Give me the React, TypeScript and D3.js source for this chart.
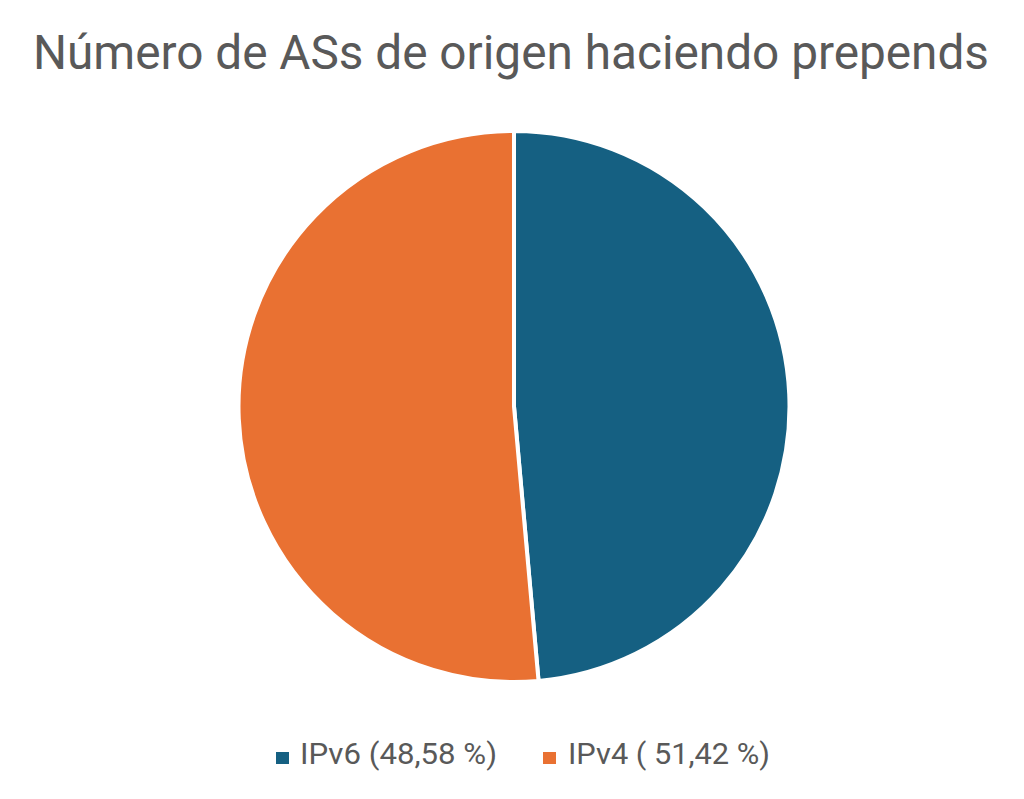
import React from "react";
import * as d3 from "d3";

const categories = ["IPv6", "IPv4"];
const values = [48.58, 51.42];
const legendLabels = ["IPv6 (48,58 %)", "IPv4 ( 51,42 %)"];
const colors = ["#156082", "#E97132"];

export default function App() {
  const W = 1024, H = 799;
  const cx = 514, cy = 406.5, r = 275.5;
  const pie = d3.pie<number>().sort(null).value((d) => d)(values);
  const arc = d3.arc<d3.PieArcDatum<number>>().innerRadius(0).outerRadius(r);
  const font = "Roboto, 'Open Sans', 'Liberation Sans', sans-serif";
  const legendX = [276, 543];
  const textX = [300, 568];
  return (
    <svg width={W} height={H} style={{ position: "absolute", left: 0, top: 0, background: "#fff" }}>
      <rect width={W} height={H} fill="#fff" />
      <text x={511} y={69} textAnchor="middle" fontFamily={font} fontSize={48} fill="#595959" textLength={956} lengthAdjust="spacingAndGlyphs">
        Número de ASs de origen haciendo prepends
      </text>
      <g transform={`translate(${cx},${cy})`}>
        {pie.map((p, i) => (
          <path key={categories[i]} d={arc(p) || ""} fill={colors[i]} stroke="#fff" strokeWidth={4} strokeLinejoin="round" />
        ))}
      </g>
      {legendLabels.map((l, i) => (
        <g key={l}>
          <rect x={legendX[i]} y={752} width={13} height={12} fill={colors[i]} />
          <text x={textX[i]} y={764} fontFamily={font} fontSize={30} fill="#595959" textLength={i === 0 ? 197 : 202} lengthAdjust="spacingAndGlyphs">
            {l}
          </text>
        </g>
      ))}
    </svg>
  );
}
